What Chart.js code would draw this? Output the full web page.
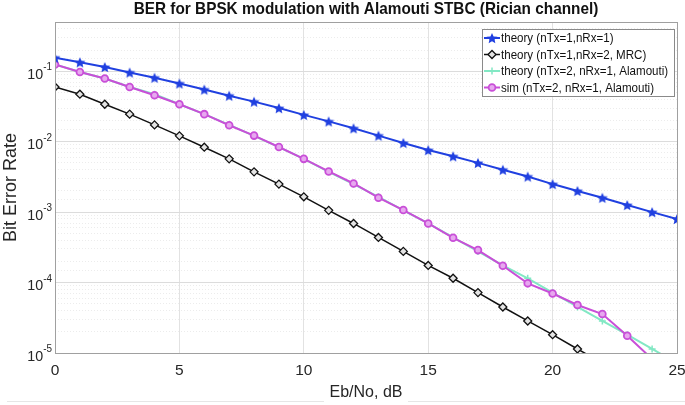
<!DOCTYPE html>
<html>
<head>
<meta charset="utf-8">
<script src="https://cdn.jsdelivr.net/npm/chart.js@4.4.1/dist/chart.umd.min.js"></script>
<style>
  html, body { margin: 0; padding: 0; background: #fff; }
</style>
</head>
<body>
<canvas id="berChart" width="685" height="405"></canvas>
<script>
// Eb/No axis (dB)
const ebNo = [0, 1, 2, 3, 4, 5, 6, 7, 8, 9, 10, 11, 12, 13, 14, 15, 16, 17, 18, 19, 20, 21, 22, 23, 24, 25];

// theory, 1 Tx / 1 Rx
const berTheory1x1 = [0.156, 0.134, 0.115, 0.096, 0.081, 0.067, 0.055, 0.045, 0.037, 0.030, 0.024, 0.0194, 0.0155,
  0.0122, 0.0096, 0.0076, 0.0062, 0.0050, 0.0040, 0.0032, 0.0025, 0.0020, 0.0016, 0.00126, 0.0010, 0.0008];

// theory, 1 Tx / 2 Rx (MRC)
const berTheoryMrc = [0.0598, 0.0472, 0.034, 0.0246, 0.0173, 0.0121, 0.00835, 0.0057, 0.00373, 0.0025, 0.00165,
  0.00106, 0.00069, 0.000437, 0.000277, 0.000175, 0.000115, 7.2e-5, 4.5e-5, 2.85e-5, 1.82e-5, 1.14e-5,
  7.2e-6, 4.6e-6, 2.9e-6, 1.8e-6];

// theory, 2 Tx / 1 Rx (Alamouti)
const berTheoryAlamouti = [0.1245, 0.0977, 0.0788, 0.0598, 0.0472, 0.034, 0.0246, 0.0173, 0.0121, 0.00835, 0.0057,
  0.00373, 0.0025, 0.00165, 0.00106, 0.00069, 0.000437, 0.000277, 0.000175, 0.000115, 7.2e-5, 4.5e-5,
  2.85e-5, 1.82e-5, 1.14e-5, 7.2e-6];

// simulation, 2 Tx / 1 Rx (Alamouti)
const berSimAlamouti = [0.1245, 0.0977, 0.0788, 0.0598, 0.0457, 0.034, 0.0246, 0.0171, 0.0122, 0.0084, 0.0057,
  0.00378, 0.00255, 0.0016, 0.00107, 0.00069, 0.000432, 0.000289, 0.000173, 9.75e-5, 7.0e-5, 4.8e-5,
  3.57e-5, 1.76e-5, 8.2e-6, null];

const xTicks = [0, 5, 10, 15, 20, 25];
const titleText = 'BER for BPSK modulation with Alamouti STBC (Rician channel)';

const FONT = "'Liberation Sans', Arial, sans-serif";
Chart.defaults.font.family = FONT;
Chart.defaults.color = '#262626';

// filled five point star, like matlab's 'p' marker
function makeStar(size, color) {
  const c = document.createElement('canvas');
  c.width = size; c.height = size;
  const g = c.getContext('2d');
  const r = size / 2, ri = r * 0.45;
  g.beginPath();
  for (let i = 0; i < 10; i++) {
    const rad = i % 2 ? ri : r - 0.3;
    const a = -Math.PI / 2 + i * Math.PI / 5;
    g.lineTo(r + rad * Math.cos(a), r + rad * Math.sin(a) + 0.6);
  }
  g.closePath();
  g.fillStyle = color;
  g.fill();
  return c;
}

const BLUE = '#2040e0';
const PURPLE = '#c94fd8';
const GREEN = '#82e8c4';
const starImg = makeStar(12, BLUE);

function isDecade(v) {
  const l = Math.log10(v);
  return Math.abs(l - Math.round(l)) < 1e-9;
}

// text squeezed a bit sideways, the source figure is narrow
function narrowText(ctx, s, x, y, sx) {
  ctx.save();
  ctx.translate(x, y);
  ctx.scale(sx, 1);
  ctx.fillText(s, 0, 0);
  ctx.restore();
}

const datasets = [
  { label: 'theory (nTx=1,nRx=1)', data: berTheory1x1, borderColor: BLUE, borderWidth: 2,
    pointStyle: starImg, pointRadius: 6, pointBackgroundColor: BLUE, pointBorderColor: BLUE, order: 1 },
  { label: 'theory (nTx=1,nRx=2, MRC)', data: berTheoryMrc, borderColor: '#111', borderWidth: 1.5,
    pointStyle: 'rectRot', pointRadius: 4, pointBorderWidth: 1.3, pointBackgroundColor: '#e4e4e4', pointBorderColor: '#111', order: 2 },
  { label: 'theory (nTx=2, nRx=1, Alamouti)', data: berTheoryAlamouti, borderColor: GREEN, borderWidth: 2,
    pointStyle: 'cross', pointRadius: 3.5, pointBorderWidth: 1.5, pointBackgroundColor: GREEN, pointBorderColor: GREEN, order: 4 },
  { label: 'sim (nTx=2, nRx=1, Alamouti)', data: berSimAlamouti, borderColor: PURPLE, borderWidth: 2,
    pointStyle: 'circle', pointRadius: 3.4, pointBorderWidth: 1.8, pointBackgroundColor: '#e7a8ef', pointBorderColor: PURPLE, order: 3 }
];

// faint frame line along the bottom of the figure, broken under the x label
const bottomRule = {
  id: 'bottomRule',
  beforeDraw(chart) {
    const { ctx, chartArea: a } = chart;
    const mid = (a.left + a.right) / 2;
    ctx.save();
    ctx.strokeStyle = '#e6e6e6';
    ctx.lineWidth = 1;
    ctx.beginPath();
    ctx.moveTo(7, 401.5); ctx.lineTo(mid - 42, 401.5);
    ctx.moveTo(mid + 42, 401.5); ctx.lineTo(chart.width, 401.5);
    ctx.stroke();
    ctx.restore();
  }
};

// title centred over the axes, matlab style
const axesTitle = {
  id: 'axesTitle',
  afterDraw(chart) {
    const { ctx, chartArea } = chart;
    ctx.save();
    ctx.font = 'bold 16.5px ' + FONT;
    ctx.fillStyle = '#111';
    ctx.textAlign = 'center';
    ctx.textBaseline = 'middle';
    narrowText(ctx, titleText, (chartArea.left + chartArea.right) / 2, 9.5, 0.93);
    ctx.restore();
  }
};

// 10^n labels with a real raised exponent
const decadeLabels = {
  id: 'decadeLabels',
  afterDraw(chart) {
    const { ctx } = chart;
    const ys = chart.scales.y;
    const right = chart.chartArea.left - 3;
    ctx.save();
    ctx.fillStyle = '#262626';
    ctx.textBaseline = 'middle';
    ys.ticks.forEach((t) => {
      if (!isDecade(t.value)) return;
      const y = ys.getPixelForValue(t.value);
      const exp = String(Math.round(Math.log10(t.value)));
      ctx.font = '11px ' + FONT;
      const ew = ctx.measureText(exp).width * 0.9;
      ctx.textAlign = 'left';
      narrowText(ctx, exp, right - ew, y - 4, 0.9);
      ctx.font = '15.5px ' + FONT;
      ctx.textAlign = 'right';
      narrowText(ctx, '10', right - ew, y + 3.5, 0.92);
    });
    ctx.restore();
  }
};

// box round the plot area
const axesBox = {
  id: 'axesBox',
  afterDatasetsDraw(chart) {
    const { ctx, chartArea: a } = chart;
    ctx.save();
    ctx.strokeStyle = '#a0a0a0';
    ctx.lineWidth = 1;
    ctx.strokeRect(Math.round(a.left) + 0.5, Math.round(a.top) + 0.5, Math.round(a.width), Math.round(a.height));
    ctx.restore();
  }
};

// legend in the top right corner of the axes
const cornerLegend = {
  id: 'cornerLegend',
  afterDraw(chart) {
    const { ctx, chartArea: a } = chart;
    const w = 192, rowH = 16.5;
    const x0 = a.right - w - 3, y0 = a.top + 7;
    const h = rowH * datasets.length + 1;
    ctx.save();
    ctx.fillStyle = '#fff';
    ctx.fillRect(x0, y0, w, h);
    ctx.strokeStyle = '#8a8a8a';
    ctx.lineWidth = 1;
    ctx.strokeRect(x0 + 0.5, y0 + 0.5, w, h);
    ctx.font = '13px ' + FONT;
    ctx.textBaseline = 'middle';
    datasets.forEach((ds, i) => {
      const cy = y0 + 9 + i * rowH;
      ctx.strokeStyle = ds.borderColor;
      ctx.lineWidth = ds.borderWidth;
      ctx.beginPath();
      ctx.moveTo(x0 + 2, cy);
      ctx.lineTo(x0 + 18, cy);
      ctx.stroke();
      ctx.fillStyle = ds.pointBackgroundColor;
      ctx.strokeStyle = ds.pointBorderColor;
      ctx.lineWidth = ds.pointBorderWidth || 1;
      Chart.helpers.drawPoint(ctx, { pointStyle: ds.pointStyle, radius: ds.pointRadius, rotation: 0, borderWidth: ds.pointBorderWidth || 1 }, x0 + 10, cy);
      ctx.fillStyle = '#111';
      narrowText(ctx, ds.label, x0 + 19, cy + 0.5, 0.89);
    });
    ctx.restore();
  }
};

new Chart(document.getElementById('berChart'), {
  type: 'line',
  data: { labels: ebNo, datasets: datasets },
  options: {
    responsive: false,
    animation: false,
    layout: { padding: { top: 22, right: 6, left: 0, bottom: 0 } },
    plugins: { legend: { display: false }, tooltip: { enabled: false } },
    elements: { line: { tension: 0 } },
    scales: {
      x: {
        type: 'linear',
        min: 0,
        max: 25,
        // the last tick label may run past the axes, as in the figure
        afterFit: (s) => { s.height = 52; s.paddingRight = 0; s.paddingLeft = 0; },
        afterBuildTicks: (s) => { s.ticks = xTicks.map(v => ({ value: v })); },
        grid: { color: '#e2e2e2', drawTicks: false },
        border: { display: false },
        ticks: { padding: 8, font: { size: 15.5 }, color: '#262626' },
        title: { display: true, text: 'Eb/No, dB', font: { size: 16 }, color: '#262626', padding: { top: 0, bottom: 3 } }
      },
      y: {
        type: 'logarithmic',
        min: 1e-5,
        max: 0.5,
        afterFit: (s) => { s.width = 55; },
        grid: {
          drawTicks: false,
          color: (c) => (c.tick && isDecade(c.tick.value)) ? '#dcdcdc' : '#ececec'
        },
        border: {
          display: false,
          dash: (c) => (c.tick && isDecade(c.tick.value)) ? [] : [1, 2]
        },
        ticks: { autoSkip: false, display: false },
        title: { display: true, text: 'Bit Error Rate', font: { size: 18 }, color: '#262626', padding: { top: 0, bottom: 0 } }
      }
    }
  },
  plugins: [bottomRule, axesTitle, axesBox, decadeLabels, cornerLegend]
});
</script>
</body>
</html>
